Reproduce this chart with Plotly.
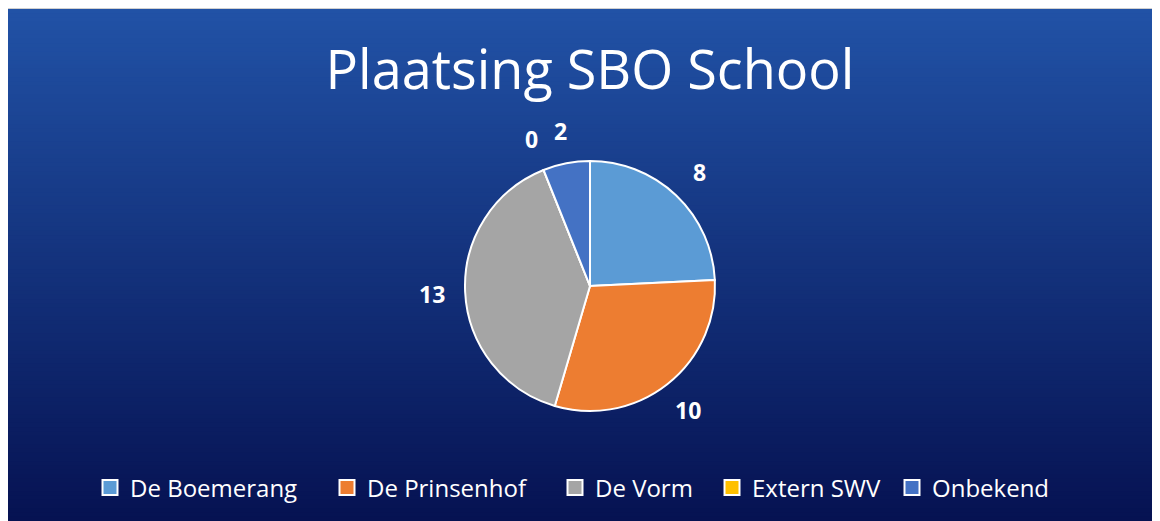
import math
import plotly.graph_objects as go

# ---- data ----
categories = ["De Boemerang", "De Prinsenhof", "De Vorm", "Extern SWV", "Onbekend"]
values = [8, 10, 13, 0, 2]
colors = ["#5B9BD5", "#ED7D31", "#A5A5A5", "#FFC000", "#4472C4"]
title_text = "Plaatsing SBO School"

# page body has an 8px margin; figure coordinates are page coordinates minus 8
W, H = 1152, 513
FONT = "Open Sans"

# pie geometry (figure pixels)
cx, cy, r = 582, 278, 125
label_r = 158

# legend entry left positions (figure pixels, layout only)
legend_left = [95, 332, 560, 717, 897]

fig = go.Figure()

fig.add_trace(go.Pie(
    labels=categories,
    values=values,
    sort=False,
    direction="clockwise",
    rotation=0,
    marker=dict(colors=colors, line=dict(color="white", width=2)),
    textinfo="none",
    hoverinfo="label+value",
    domain=dict(x=[(cx - r) / W, (cx + r) / W], y=[1 - (cy + r) / H, 1 - (cy - r) / H]),
    showlegend=False,
))

# legend entries (one legend per entry to reproduce spacing)
legends = {}
for i, (cat, col) in enumerate(zip(categories, colors)):
    lname = "legend" if i == 0 else "legend%d" % (i + 1)
    fig.add_trace(go.Scatter(
        x=[None], y=[None], mode="markers", name=cat,
        marker=dict(symbol="square", size=15, color=col, line=dict(color="white", width=2)),
        legend=lname, showlegend=True, hoverinfo="skip",
    ))
    legends[lname] = dict(
        orientation="h", x=(legend_left[i] - 13) / W, xanchor="left",
        y=1 - 480 / H, yanchor="middle",
        font=dict(family=FONT, size=24, color="white"), bgcolor="rgba(0,0,0,0)",
        itemsizing="trace", itemclick=False, itemdoubleclick=False,
    )

# gradient background panel (style only)
shapes = []
x0p, y0p = 0, 1
top = (33, 82, 166)
bot = (6, 18, 82)
n = 120
for i in range(n):
    t = i / (n - 1)
    c = tuple(int(round(top[k] + (bot[k] - top[k]) * t)) for k in range(3))
    ya = y0p + (H - y0p) * i / n
    yb = y0p + (H - y0p) * (i + 1) / n + 2
    shapes.append(dict(type="rect", xref="paper", yref="paper",
                       x0=x0p / W, x1=1, y0=max(0, 1 - yb / H), y1=1 - ya / H,
                       fillcolor="rgb(%d,%d,%d)" % c, line=dict(width=0), layer="below"))
shapes.append(dict(type="line", xref="paper", yref="paper",
                   x0=0, x1=1, y0=1 - 0.5 / H, y1=1 - 0.5 / H,
                   line=dict(color="#D0D0D0", width=1), layer="below"))

# data labels at slice midpoints
annotations = []
total = sum(values)
cum = 0
for lab, v in zip(categories, values):
    mid = (cum + v / 2) / total * 2 * math.pi
    cum += v
    lx = cx + label_r * math.sin(mid)
    ly = cy - label_r * math.cos(mid)
    annotations.append(dict(x=lx / W, y=1 - ly / H, xref="paper", yref="paper",
                            text="<b>%d</b>" % v, showarrow=False,
                            font=dict(family=FONT, size=23, color="white"),
                            xanchor="center", yanchor="middle"))

fig.update_layout(
    width=W, height=H,
    margin=dict(l=0, r=0, t=0, b=0),
    paper_bgcolor="white",
    plot_bgcolor="rgba(0,0,0,0)",
    xaxis=dict(visible=False),
    yaxis=dict(visible=False),
    title=dict(text=title_text, x=cx / W, xanchor="center", y=1 - 62 / H, yanchor="middle",
               font=dict(family=FONT, size=54, color="white")),
    shapes=shapes,
    annotations=annotations,
    **legends,
)

fig.write_html("out.html")
